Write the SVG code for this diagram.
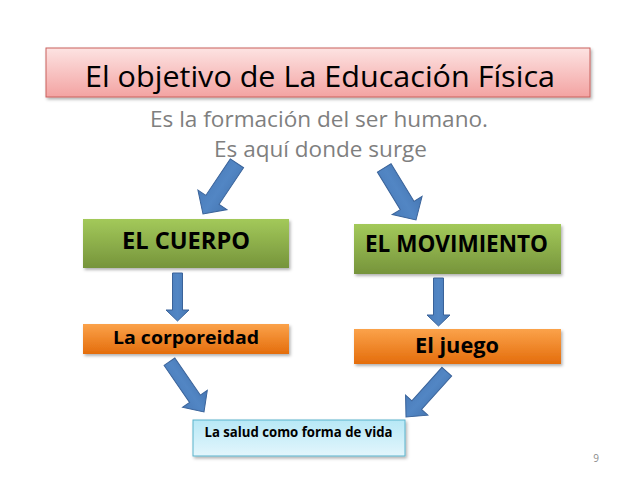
<svg xmlns="http://www.w3.org/2000/svg" width="638" height="479" viewBox="0 0 638 479">
<defs>
<linearGradient id="gPink" x1="0" y1="0" x2="0" y2="1"><stop offset="0" stop-color="#fde3e2"/><stop offset="1" stop-color="#f3a3a2"/></linearGradient>
<linearGradient id="gGreen" x1="0" y1="0" x2="0" y2="1"><stop offset="0" stop-color="#a3c95a"/><stop offset="1" stop-color="#76943b"/></linearGradient>
<linearGradient id="gOrange" x1="0" y1="0" x2="0" y2="1"><stop offset="0" stop-color="#fba24a"/><stop offset="1" stop-color="#e46d0c"/></linearGradient>
<linearGradient id="gCyan" x1="0" y1="0" x2="0" y2="1"><stop offset="0" stop-color="#b7e8f6"/><stop offset="1" stop-color="#e3f6fc"/></linearGradient>
<linearGradient id="gBlue" x1="0" y1="0" x2="1" y2="0"><stop offset="0" stop-color="#4a7cba"/><stop offset="0.5" stop-color="#5286c4"/><stop offset="1" stop-color="#4677b3"/></linearGradient>
<filter id="sh" x="-5%" y="-10%" width="110%" height="130%"><feDropShadow dx="1.5" dy="2" stdDeviation="1.5" flood-color="#000" flood-opacity="0.3"/></filter>
<polygon id="bigArrow" points="-8,-61 8,-61 8,-17 17.5,-17 0,0 -17.5,-17 -8,-17"/>
<polygon id="downArrow" points="-5,-48 5,-48 5,-11 11.5,-11 0,0 -11.5,-11 -5,-11"/>
<polygon id="lowArrow" points="-6.5,-61 6.5,-61 6.5,-16 15,-16 0,0 -15,-16 -6.5,-16"/>
</defs>
<style>
.arrow{fill:url(#gBlue);stroke:#3a639a;stroke-width:1}
.lbl{font-family:"Open Sans","Liberation Sans",sans-serif;fill:#000}
.b{font-weight:bold}
.sub{font-family:"Open Sans","Liberation Sans",sans-serif;fill:#7f7f7f;font-size:22px}
</style>
<rect width="638" height="479" fill="#fff"/>

<g id="title">
<rect x="46" y="48" width="544" height="49" fill="url(#gPink)" stroke="#c9605d" stroke-width="1" filter="url(#sh)"/>
<text class="lbl" x="320" y="87" font-size="30" text-anchor="middle" textLength="470" lengthAdjust="spacingAndGlyphs">El objetivo de La Educación Física</text>
</g>

<g id="subtitle">
<text class="sub" x="319" y="127" text-anchor="middle" textLength="338" lengthAdjust="spacingAndGlyphs">Es la formación del ser humano.</text>
<text class="sub" x="320.5" y="157" text-anchor="middle" textLength="213" lengthAdjust="spacingAndGlyphs">Es aquí donde surge</text>
</g>

<g id="connectors">
<use href="#bigArrow" class="arrow" transform="translate(203,214) rotate(33.8)"/>
<use href="#bigArrow" class="arrow" transform="translate(416,220) rotate(-31.4)"/>
<use href="#downArrow" class="arrow" transform="translate(177.5,321)"/>
<use href="#downArrow" class="arrow" transform="translate(438.5,326)"/>
<use href="#lowArrow" class="arrow" transform="translate(204,412) rotate(-34.5)"/>
<use href="#lowArrow" class="arrow" transform="translate(406,417) rotate(42)"/>
</g>

<g id="cuerpo">
<rect x="83" y="219" width="206" height="49" fill="url(#gGreen)" filter="url(#sh)"/>
<text class="lbl b" x="186" y="249" font-size="24" text-anchor="middle" textLength="128" lengthAdjust="spacingAndGlyphs">EL CUERPO</text>
</g>

<g id="movimiento">
<rect x="354" y="224" width="207" height="50" fill="url(#gGreen)" filter="url(#sh)"/>
<text class="lbl b" x="456.5" y="252" font-size="23" text-anchor="middle" textLength="183" lengthAdjust="spacingAndGlyphs">EL MOVIMIENTO</text>
</g>

<g id="corporeidad">
<rect x="83" y="324" width="206" height="30" fill="url(#gOrange)" filter="url(#sh)"/>
<text class="lbl b" x="186" y="344" font-size="18" text-anchor="middle" textLength="146" lengthAdjust="spacingAndGlyphs">La corporeidad</text>
</g>

<g id="juego">
<rect x="354" y="329" width="207" height="35" fill="url(#gOrange)" filter="url(#sh)"/>
<text class="lbl b" x="457" y="353" font-size="22" text-anchor="middle" textLength="84" lengthAdjust="spacingAndGlyphs">El juego</text>
</g>

<g id="salud">
<rect x="193" y="420" width="212" height="36" fill="url(#gCyan)" stroke="#5bb3cc" stroke-width="1" filter="url(#sh)"/>
<text class="lbl b" x="298.5" y="437" font-size="14" text-anchor="middle" textLength="188" lengthAdjust="spacingAndGlyphs">La salud como forma de vida</text>
</g>

<text x="596" y="462" font-family="Open Sans, Liberation Sans, sans-serif" font-size="10" fill="#8c8c8c" text-anchor="middle">9</text>
</svg>
